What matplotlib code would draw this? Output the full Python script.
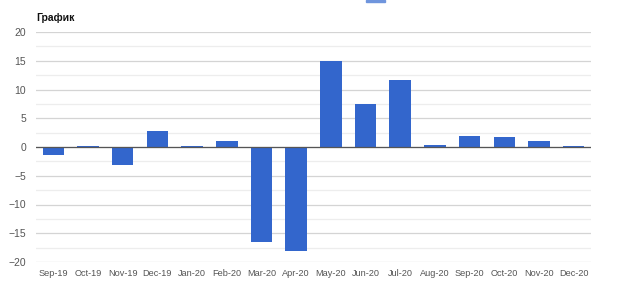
import matplotlib.pyplot as plt
from matplotlib.patches import Rectangle

months = ["Sep-19", "Oct-19", "Nov-19", "Dec-19", "Jan-20", "Feb-20", "Mar-20", "Apr-20",
          "May-20", "Jun-20", "Jul-20", "Aug-20", "Sep-20", "Oct-20", "Nov-20", "Dec-20"]
values = [-1.4, 0.2, -3.1, 2.8, 0.1, 1.0, -16.5, -18.0,
          15.0, 7.5, 11.6, 0.3, 2.0, 1.7, 1.05, 0.2]
yticks = [-20, -15, -10, -5, 0, 5, 10, 15, 20]

plt.rcParams['font.family'] = ['Liberation Sans', 'DejaVu Sans']

fig = plt.figure(figsize=(6.2, 2.85), dpi=100)
ax = fig.add_axes([36 / 620, 1 - 262 / 285, 555 / 620, 230 / 285])

x = range(len(months))
ax.bar(x, values, width=0.62, color='#3366cc', zorder=3)

ax.set_xlim(-0.5, len(months) - 0.5)
ax.set_ylim(-20, 20)
ax.set_yticks(yticks)
ax.set_yticks([v + 2.5 for v in yticks[:-1]], minor=True)
ax.set_xticks(list(x))
ax.set_xticklabels(months)

ax.grid(axis='y', which='major', color='#d4d4d4', linewidth=0.9, zorder=0)
ax.grid(axis='y', which='minor', color='#ededed', linewidth=0.9, zorder=0)
ax.axhline(0, color='#555555', linewidth=0.9, zorder=4)

for s in ax.spines.values():
    s.set_visible(False)
ax.tick_params(axis='both', which='both', length=0, labelcolor='#555555')
ax.tick_params(axis='y', labelsize=7.5, pad=7)
ax.tick_params(axis='x', labelsize=6.6, pad=5)

fig.text(36 / 620, 1 - 18 / 285, "График", fontsize=7.5, fontweight='bold',
         color='#111111', va='center', ha='left')

# legend swatch cut off at the top edge
fig.patches.append(Rectangle((366 / 620, 1 - 2 / 285), 19 / 620, 2 / 285,
                             transform=fig.transFigure, color='#6f95dd'))

fig.savefig("out.png", dpi=100)
